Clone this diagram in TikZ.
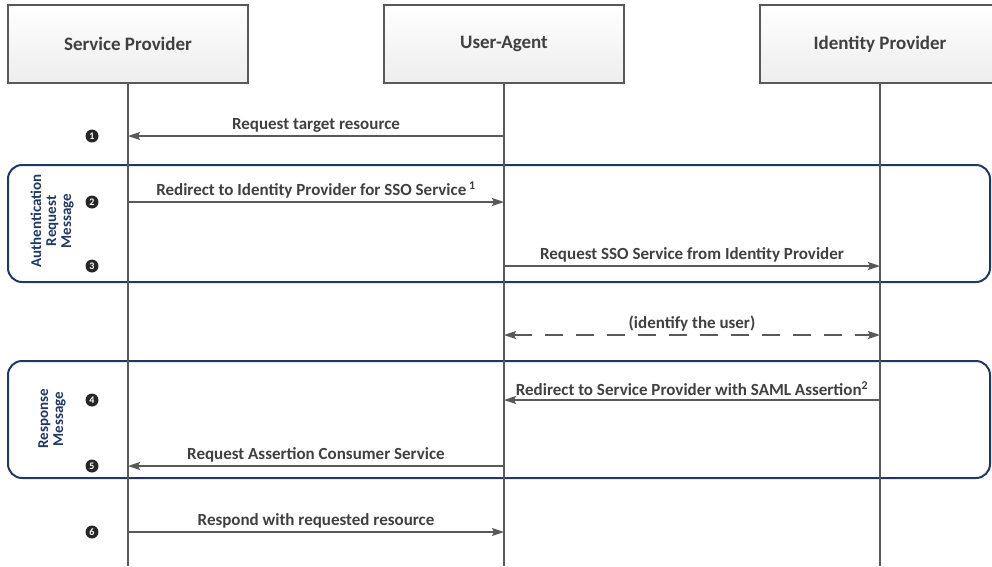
\documentclass[tikz,border=0pt]{standalone}
\usepackage{fontspec}
\setmainfont{Carlito}
\usetikzlibrary{arrows.meta}
\definecolor{navy}{HTML}{1F3864}
\definecolor{ink}{HTML}{404040}

\begin{document}
\begin{tikzpicture}[x=1pt,y=-1pt,
  actor/.style={draw=black!65, line width=1.6pt, top color=white, bottom color=black!7,
    minimum width=240pt, minimum height=78pt, font=\bfseries\fontsize{19}{21}\selectfont, text=ink},
  life/.style={draw=black!65, line width=1.6pt},
  msg/.style={draw=black!65, line width=1.4pt, -{Stealth[length=12pt,width=8pt,inset=2pt]}},
  both/.style={msg, {Stealth[length=12pt,width=8pt,inset=2pt]}-{Stealth[length=12pt,width=8pt,inset=2pt]}, dash pattern=on 18pt off 13pt},
  lbl/.style={above=0pt, font=\bfseries\fontsize{17}{19}\selectfont, text=ink},
  phase/.style={draw=navy, line width=2pt, rounded corners=14pt},
  phaselbl/.style={rotate=90, align=center, text=navy, font=\bfseries\fontsize{15}{15}\selectfont},
  num/.style={circle, fill=black!85, text=white, inner sep=0pt, minimum size=13pt, font=\bfseries\fontsize{10}{10}\selectfont}]
\clip (0,0) rectangle (992,566);

% message phases
\draw[phase] (8,165) rectangle (990,282);
\node[phaselbl] (authlbl) at (52,221) {Authentication\\Request\\Message};
\draw[phase] (8,361) rectangle (990,478);
\node[phaselbl] (resplbl) at (52,419) {Response\\Message};

% actors and lifelines
\node[actor] (sp) at (128,44) {Service Provider};
\node[actor] (ua) at (504,44) {User-Agent};
\node[actor] (idp) at (880,44) {Identity Provider};
\coordinate (spend) at (128,566);
\coordinate (uaend) at (504,566);
\coordinate (idpend) at (880,566);
\draw[life] (sp) -- (spend);
\draw[life] (ua) -- (uaend);
\draw[life] (idp) -- (idpend);

% steps
\foreach \n/\y in {1/136,2/202,3/266,4/400,5/466,6/532}{
  \coordinate (sp\n) at (128,\y);
  \coordinate (ua\n) at (504,\y);
  \coordinate (idp\n) at (880,\y);
  \node[num] (n\n) at (92,\y) {\n};
}
\coordinate (uaid) at (504,335);
\coordinate (idpid) at (880,335);

\draw[msg] (ua1) -- node[lbl] {Request target resource} (sp1);
\draw[msg] (sp2) -- node[lbl] {Redirect to Identity Provider for SSO Service\,\textsuperscript{1}} (ua2);
\draw[msg] (ua3) -- node[lbl] {Request SSO Service from Identity Provider} (idp3);
\draw[both] (uaid) -- node[lbl] {(identify the user)} (idpid);
\draw[msg] (idp4) -- node[lbl] {Redirect to Service Provider with SAML Assertion\textsuperscript{2}} (ua4);
\draw[msg] (ua5) -- node[lbl] {Request Assertion Consumer Service} (sp5);
\draw[msg] (sp6) -- node[lbl] {Respond with requested resource} (ua6);
\end{tikzpicture}
\end{document}
